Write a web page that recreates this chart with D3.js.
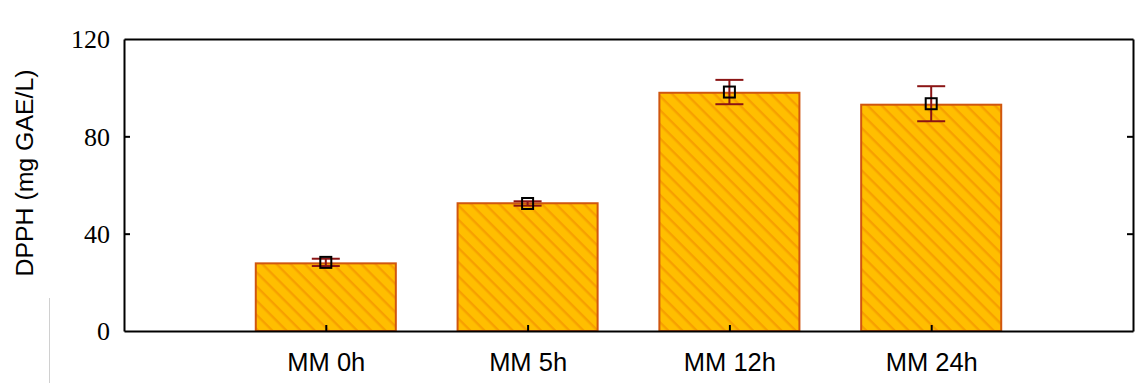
<!DOCTYPE html>
<html>
<head>
<meta charset="utf-8">
<script src="https://cdn.jsdelivr.net/npm/d3@7"></script>
<style>
html,body{margin:0;padding:0;background:#fff;}
svg{display:block;}
</style>
</head>
<body>
<svg id="chart" width="1135" height="383"></svg>
<script>
const categories = ["MM 0h", "MM 5h", "MM 12h", "MM 24h"];
const means = [28.2, 52.4, 98.2, 93.4];
const barHeights = [27.8, 52.5, 97.9, 93.0];
const errors = [1.5, 0.9, 5.0, 7.2];
const yTicks = [0, 40, 80, 120];
const yLabel = "DPPH (mg GAE/L)";

const svg = d3.select("#chart");
const W = 1135, H = 383;
const m = {left: 124, right: 2, top: 39, bottom: 52};
const x = d3.scaleLinear().domain([0, categories.length + 1]).range([m.left, W - m.right]);
const y = d3.scaleLinear().domain([0, 120]).range([H - m.bottom, m.top]);
const step = x(1) - x(0);
const barW = step * 0.694;

// hatch pattern
const defs = svg.append("defs");
const pat = defs.append("pattern")
  .attr("id", "hatch").attr("patternUnits", "userSpaceOnUse")
  .attr("width", 10).attr("height", 10)
  .attr("patternTransform", "rotate(45)");
pat.append("rect").attr("width", 10).attr("height", 10).attr("fill", "#FFBE00");
pat.append("rect").attr("x", 0).attr("y", 0).attr("width", 10).attr("height", 2.4).attr("fill", "#F7A000");

// faint artifact line
svg.append("line").attr("x1", 49.5).attr("x2", 49.5).attr("y1", 298).attr("y2", H)
  .attr("stroke", "#d0d0d0").attr("stroke-width", 1);

// bars
svg.selectAll("rect.bar").data(categories).enter().append("rect")
  .attr("class", "bar")
  .attr("x", (d, i) => x(i + 1) - barW / 2)
  .attr("width", barW)
  .attr("y", (d, i) => y(barHeights[i]))
  .attr("height", (d, i) => y(0) - y(barHeights[i]))
  .attr("fill", "url(#hatch)")
  .attr("stroke", "#D0560F").attr("stroke-width", 2);

// frame axes
const tickLen = 6;
svg.append("g").attr("transform", `translate(${m.left},0)`)
  .call(d3.axisLeft(y).tickValues(yTicks).tickSizeInner(-tickLen).tickSizeOuter(0).tickPadding(14).tickFormat(d3.format("d")))
  .call(g => g.attr("font-family", null).attr("font-size", null))
  .call(g => g.select(".domain").attr("stroke", "#000").attr("stroke-width", 2))
  .call(g => g.selectAll(".tick line").attr("stroke", "#000").attr("stroke-width", 2)
        .attr("display", d => (d === 0 || d === 120) ? "none" : null))
  .call(g => g.selectAll(".tick text")
        .style("font-family", "'Liberation Serif','Times New Roman',serif")
        .style("font-size", "26px").attr("fill", "#000").attr("dy", "0.34em"));

svg.append("g").attr("transform", `translate(${W - m.right},0)`)
  .call(d3.axisRight(y).tickValues(yTicks).tickSizeInner(-tickLen).tickSizeOuter(0).tickFormat(""))
  .call(g => g.select(".domain").attr("stroke", "#000").attr("stroke-width", 2))
  .call(g => g.selectAll(".tick line").attr("stroke", "#000").attr("stroke-width", 2)
        .attr("display", d => (d === 0 || d === 120) ? "none" : null));

svg.append("g").attr("transform", `translate(0,${y(0)})`)
  .call(d3.axisBottom(x).tickValues(d3.range(1, categories.length + 1)).tickSizeInner(-6).tickSizeOuter(0)
        .tickPadding(22).tickFormat(d => categories[d - 1]))
  .call(g => g.attr("font-family", null).attr("font-size", null))
  .call(g => g.select(".domain").attr("stroke", "#000").attr("stroke-width", 2))
  .call(g => g.selectAll(".tick line").attr("stroke", "#000").attr("stroke-width", 2))
  .call(g => g.selectAll(".tick text")
        .style("font-family", "'Liberation Sans',Arial,sans-serif")
        .style("font-size", "25.5px").attr("fill", "#000"));

svg.append("g").attr("transform", `translate(0,${y(120)})`)
  .call(d3.axisTop(x).tickValues([]).tickSizeOuter(0))
  .call(g => g.select(".domain").attr("stroke", "#000").attr("stroke-width", 2));

// error bars
const eb = svg.append("g");
const capW = 28;
categories.forEach((c, i) => {
  const cx = x(i + 1);
  const col = "#8B1515";
  eb.append("line").attr("x1", cx).attr("x2", cx).attr("y1", y(means[i] - errors[i])).attr("y2", y(means[i] + errors[i]))
    .attr("stroke", col).attr("stroke-width", 2);
  [means[i] - errors[i], means[i] + errors[i]].forEach(v => {
    eb.append("line").attr("x1", cx - capW / 2).attr("x2", cx + capW / 2).attr("y1", y(v)).attr("y2", y(v))
      .attr("stroke", col).attr("stroke-width", 2);
  });
  eb.append("rect").attr("x", cx - 5.5).attr("y", y(means[i]) - 5.5).attr("width", 11).attr("height", 11)
    .attr("fill", "none").attr("stroke", "#000").attr("stroke-width", 2);
});

// y label
svg.append("text")
  .attr("transform", `translate(33,${173}) rotate(-90)`)
  .attr("text-anchor", "middle")
  .style("font-family", "'Liberation Sans',Arial,sans-serif")
  .style("font-size", "23px")
  .attr("textLength", 207).attr("lengthAdjust", "spacingAndGlyphs")
  .attr("fill", "#000")
  .text(yLabel);
</script>
</body>
</html>
